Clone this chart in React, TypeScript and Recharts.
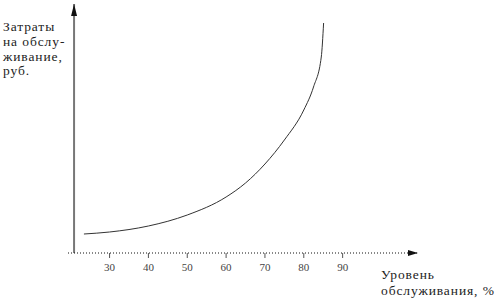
import React from 'react';
import {
  LineChart,
  Line,
  XAxis,
  YAxis,
  ReferenceLine,
  ReferenceDot,
} from 'recharts';

// service level, %
const levels = [23.4, 30, 40, 50, 60, 65, 70, 75, 80, 82.5, 84.5, 85.1];
// servicing costs (relative units)
const costs = [19, 21, 27, 38, 56, 70, 89, 113, 143, 166, 196, 230];
const xTicks = [30, 40, 50, 60, 70, 80, 90];

const yTitle = ['Затраты', 'на обслу-', 'живание,', 'руб.'];
const xTitle = ['Уровень', 'обслуживания, %'];

const X_DOMAIN: [number, number] = [19.3, 109.4];
const Y_DOMAIN: [number, number] = [0, 249];
const Y_AXIS_AT = 20.86;

const FONT = '"Liberation Serif", serif';

const data = levels.map((level, i) => ({ level, cost: costs[i] }));

const UpArrow = (props: any) => {
  const { cx, cy } = props;
  return <path d={`M${cx},${cy} L${cx - 3},${cy + 12} L${cx + 3},${cy + 12} Z`} fill="#111" />;
};

const RightArrow = (props: any) => {
  const { cx, cy } = props;
  return <path d={`M${cx},${cy} L${cx - 10},${cy - 3} L${cx - 10},${cy + 3} Z`} fill="#111" />;
};

const titleStyle: React.CSSProperties = {
  position: 'absolute',
  fontFamily: FONT,
  fontSize: 13.5,
  letterSpacing: 0.9,
  color: '#222',
  whiteSpace: 'nowrap',
};

export default function App() {
  return (
    <div style={{ position: 'absolute', left: 0, top: 0, width: 500, height: 301, background: '#fff' }}>
      <LineChart width={500} height={301} data={data} margin={{ top: 4, right: 82, bottom: 0, left: 68 }}>
        <XAxis
          dataKey="level"
          type="number"
          domain={X_DOMAIN}
          ticks={xTicks}
          height={48}
          axisLine={{ stroke: '#111', strokeDasharray: '1 2' }}
          tickLine={{ stroke: '#555' }}
          tickSize={5}
          tickMargin={5}
          tick={{ fontSize: 11, fill: '#444', fontFamily: FONT }}
          allowDataOverflow
        />
        <YAxis type="number" domain={Y_DOMAIN} hide allowDataOverflow />
        <ReferenceLine x={Y_AXIS_AT} stroke="#777" strokeWidth={2} />
        <ReferenceDot x={Y_AXIS_AT} y={Y_DOMAIN[1]} shape={<UpArrow />} />
        <ReferenceDot x={X_DOMAIN[1]} y={0} shape={<RightArrow />} />
        <Line
          type="monotone"
          dataKey="cost"
          stroke="#333"
          strokeWidth={1}
          dot={false}
          isAnimationActive={false}
        />
      </LineChart>
      <div style={{ ...titleStyle, left: 3, top: 20, lineHeight: '14.8px' }}>
        {yTitle.map((line) => (
          <div key={line}>{line}</div>
        ))}
      </div>
      <div style={{ ...titleStyle, left: 381, top: 267, lineHeight: '15.5px' }}>
        {xTitle.map((line) => (
          <div key={line}>{line}</div>
        ))}
      </div>
    </div>
  );
}
